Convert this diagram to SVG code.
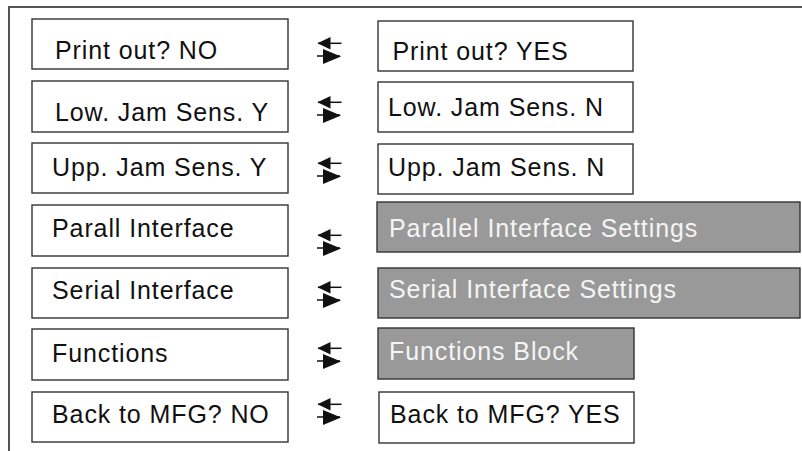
<svg xmlns="http://www.w3.org/2000/svg" xmlns:xlink="http://www.w3.org/1999/xlink" width="802" height="451" viewBox="0 0 802 451">
<style>
.box{fill:#ffffff;stroke:#333333;stroke-width:1.4}
.gbox{fill:#999999;stroke:#333333;stroke-width:1.4}
.t{font-family:"Liberation Sans",Arial,sans-serif;font-size:25px;letter-spacing:0.9px;fill:#111111}
.tw{font-family:"Liberation Sans",Arial,sans-serif;font-size:25px;letter-spacing:0.9px;fill:#f4f4f4}
.frame{fill:none;stroke:#555555;stroke-width:2}
</style>
<defs>
<g id="dbl">
<line x1="1" y1="5.3" x2="24.5" y2="5.3" stroke="#111" stroke-width="1.5"/>
<polygon points="0.5,5.3 13.5,-1 13.5,11.5" fill="#111"/>
<line x1="0" y1="18" x2="23" y2="18" stroke="#111" stroke-width="1.5"/>
<polygon points="24,18.5 6,11 6,26" fill="#111"/>
</g>
</defs>
<rect width="802" height="451" fill="#ffffff"/>
<path class="frame" d="M9,451 V7 H802"/>

<g id="n1"><rect class="box" x="32" y="19" width="256" height="50"/><text class="t" x="55" y="58.5">Print out? NO</text></g>
<g id="n2"><rect class="box" x="32" y="81" width="256" height="51"/><text class="t" x="55" y="121">Low. Jam Sens. Y</text></g>
<g id="n3"><rect class="box" x="32" y="143" width="256" height="50"/><text class="t" x="52" y="175.5">Upp. Jam Sens. Y</text></g>
<g id="n4"><rect class="box" x="32" y="205" width="256" height="51"/><text class="t" x="52" y="236.5">Parall Interface</text></g>
<g id="n5"><rect class="box" x="32" y="268" width="256" height="50"/><text class="t" x="52" y="299">Serial Interface</text></g>
<g id="n6"><rect class="box" x="32" y="329" width="256" height="51"/><text class="t" x="52" y="361.5">Functions</text></g>
<g id="n7"><rect class="box" x="32" y="392" width="256" height="50"/><text class="t" x="52" y="422.5">Back to MFG? NO</text></g>

<g id="m1"><rect class="box" x="378" y="21" width="255" height="50"/><text class="t" x="392.5" y="60">Print out? YES</text></g>
<g id="m2"><rect class="box" x="378" y="82" width="255" height="50"/><text class="t" x="388" y="116">Low. Jam Sens. N</text></g>
<g id="m3"><rect class="box" x="378" y="144" width="255" height="50"/><text class="t" x="388" y="175.5">Upp. Jam Sens. N</text></g>
<g id="m4"><rect class="gbox" x="377" y="202" width="423" height="50"/><text class="tw" x="389" y="236.5">Parallel Interface Settings</text></g>
<g id="m5"><rect class="gbox" x="378" y="268" width="422" height="50"/><text class="tw" x="389" y="298">Serial Interface Settings</text></g>
<g id="m6"><rect class="gbox" x="378" y="328" width="256" height="51"/><text class="tw" x="389" y="360">Functions Block</text></g>
<g id="m7"><rect class="box" x="379" y="392" width="255" height="51"/><text class="t" x="390" y="422.5">Back to MFG? YES</text></g>

<g id="connectors">
<use xlink:href="#dbl" x="317" y="38"/>
<use xlink:href="#dbl" x="317" y="97"/>
<use xlink:href="#dbl" x="317" y="158"/>
<use xlink:href="#dbl" x="317" y="230"/>
<use xlink:href="#dbl" x="317" y="282"/>
<use xlink:href="#dbl" x="317" y="343"/>
<use xlink:href="#dbl" x="317" y="399"/>
</g>
</svg>
